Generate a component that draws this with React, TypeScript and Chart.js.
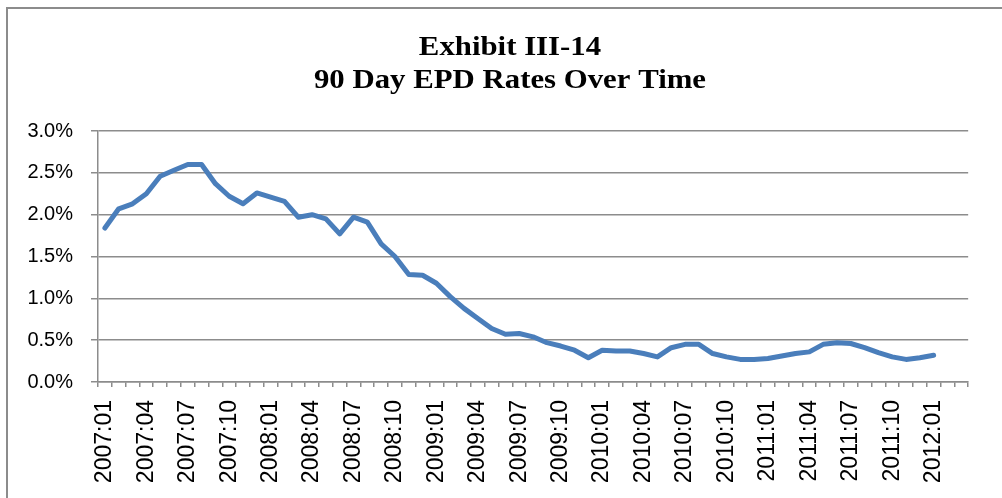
import React, { useEffect, useRef } from "react";
import { Chart, registerables } from "chart.js";

Chart.register(...registerables);

const titleLines = ["Exhibit III-14", "90 Day EPD Rates Over Time"];

const months = [
  "2007:01", "2007:02", "2007:03", "2007:04", "2007:05", "2007:06", "2007:07", "2007:08", "2007:09", "2007:10", "2007:11", "2007:12",
  "2008:01", "2008:02", "2008:03", "2008:04", "2008:05", "2008:06", "2008:07", "2008:08", "2008:09", "2008:10", "2008:11", "2008:12",
  "2009:01", "2009:02", "2009:03", "2009:04", "2009:05", "2009:06", "2009:07", "2009:08", "2009:09", "2009:10", "2009:11", "2009:12",
  "2010:01", "2010:02", "2010:03", "2010:04", "2010:05", "2010:06", "2010:07", "2010:08", "2010:09", "2010:10", "2010:11", "2010:12",
  "2011:01", "2011:02", "2011:03", "2011:04", "2011:05", "2011:06", "2011:07", "2011:08", "2011:09", "2011:10", "2011:11", "2011:12",
  "2012:01", "2012:02", "2012:03",
];

// 90-day EPD rate, in percent
const epdRates: (number | null)[] = [
  1.84, 2.07, 2.13, 2.25, 2.46, 2.53, 2.60, 2.60, 2.37, 2.22, 2.13, 2.26,
  2.21, 2.16, 1.97, 2.00, 1.95, 1.77, 1.97, 1.91, 1.65, 1.50, 1.285, 1.276,
  1.18, 1.02, 0.88, 0.76, 0.64, 0.57, 0.58, 0.54, 0.47, 0.43, 0.38, 0.29,
  0.38, 0.37, 0.37, 0.34, 0.30, 0.41, 0.45, 0.45, 0.34, 0.30, 0.27, 0.27,
  0.28, 0.31, 0.34, 0.36, 0.45, 0.47, 0.46, 0.41, 0.35, 0.30, 0.27, 0.29,
  0.32, null, null,
];

const yTicks = [0, 0.5, 1.0, 1.5, 2.0, 2.5, 3.0];

const GRID = "#8c8c8c";

const titlePlugin = {
  id: "stretchedTitle",
  afterDraw(chart: any) {
    const ctx = chart.ctx as CanvasRenderingContext2D;
    ctx.save();
    ctx.fillStyle = "#000";
    ctx.font = "bold 28px 'Liberation Serif', 'Times New Roman', serif";
    ctx.textAlign = "center";
    ctx.textBaseline = "alphabetic";
    const baselines = [55, 88];
    titleLines.forEach((line, i) => {
      ctx.save();
      ctx.translate(510, baselines[i]);
      ctx.scale(1.1, 1);
      ctx.fillText(line, 0, 0);
      ctx.restore();
    });
    ctx.restore();
  },
};

export default function App() {
  const ref = useRef<HTMLCanvasElement | null>(null);

  useEffect(() => {
    if (!ref.current) return;
    const chart = new Chart(ref.current, {
      type: "line",
      data: {
        labels: months,
        datasets: [
          {
            label: "90 Day EPD Rate",
            data: epdRates,
            borderColor: "#4a7ebb",
            backgroundColor: "#4a7ebb",
            borderWidth: 5,
            pointRadius: 0,
            tension: 0,
            spanGaps: false,
            borderJoinStyle: "round",
            borderCapStyle: "round",
          },
        ],
      },
      plugins: [titlePlugin],
      options: {
        responsive: false,
        animation: false,
        layout: { padding: { left: 0, right: 17, top: 131, bottom: 0 } },
        plugins: {
          legend: { display: false },
          tooltip: { enabled: false },
          title: { display: false },
        },
        scales: {
          x: {
            type: "category",
            offset: true,
            grid: {
              offset: true,
              drawOnChartArea: false,
              drawTicks: true,
              tickLength: 5,
              color: GRID,
              lineWidth: 1.5,
            },
            border: { display: true, color: GRID, width: 1.5 },
            ticks: {
              autoSkip: false,
              minRotation: 90,
              maxRotation: 90,
              padding: 13,
              color: "#000",
              font: { family: "'Liberation Sans', Arial, sans-serif", size: 23 },
              callback: (_v: any, i: number) => (i % 3 === 0 && epdRates[i] !== null ? months[i] : ""),
            },
            afterFit: (scale: any) => {
              scale.height = 116;
            },
          },
          y: {
            min: yTicks[0],
            max: yTicks[yTicks.length - 1],
            afterBuildTicks: (scale: any) => {
              scale.ticks = yTicks.map((v) => ({ value: v }));
            },
            grid: {
              color: GRID,
              lineWidth: 1.5,
              drawTicks: true,
              tickLength: 7,
            },
            border: { display: true, color: GRID, width: 1.5 },
            ticks: {
              padding: 18,
              color: "#000",
              font: { family: "'Liberation Sans', Arial, sans-serif", size: 20 },
              callback: (v: any) => Number(v).toFixed(1) + "%",
            },
            afterFit: (scale: any) => {
              scale.width = 98;
            },
          },
        },
      },
    });
    return () => chart.destroy();
  }, []);

  return (
    <div style={{ position: "fixed", left: 0, top: 0, width: 1002, height: 498, overflow: "hidden", background: "#fff" }}>
      <div
        style={{
          position: "absolute",
          left: 6,
          top: 7,
          width: 1100,
          height: 600,
          borderLeft: `2px solid ${GRID}`,
          borderTop: `2px solid ${GRID}`,
        }}
      />
      <canvas ref={ref} width={1002} height={498} style={{ position: "absolute", left: 0, top: 0, display: "block" }} />
    </div>
  );
}
